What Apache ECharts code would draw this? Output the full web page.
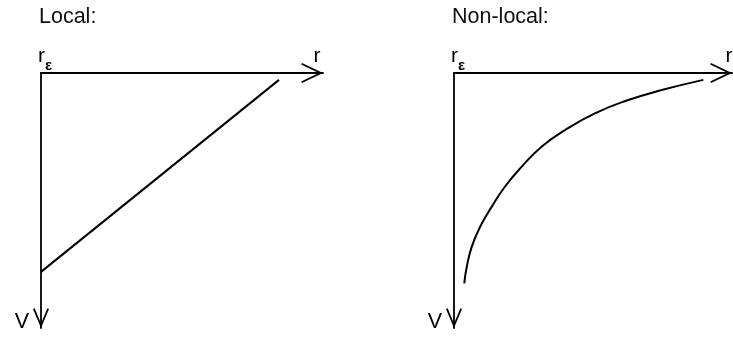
<!DOCTYPE html>
<html>
<head>
<meta charset="utf-8">
<script src="https://cdn.jsdelivr.net/npm/echarts@6/dist/echarts.min.js"></script>
<style>
html,body{margin:0;padding:0;background:#fff;}
#c{width:733px;height:337px;}
</style>
</head>
<body>
<div id="c"></div>
<script>
// ---- data (axis units 0..100, V grows downward) ----
const panelTitles = ['Local:', 'Non-local:'];
const xAxisNames = ['r', 'r'];
const yAxisNames = ['V', 'V'];
const originLabel = ['r', 'ε'];

const localX = [0, 84.4];
const localY = [78.0, 2.7];

const nonlocalX = [3.7, 4.6, 6.4, 9.4, 13.6, 18.3, 24.4, 31.5, 39.9, 50.7, 62.7, 74.7, 89.7];
const nonlocalY = [82.5, 76.0, 68.1, 60.3, 52.4, 44.6, 36.7, 28.9, 22.4, 15.8, 10.6, 6.7, 2.7];

// ---- helpers ----
const FONT = "'Liberation Sans', Arial, Helvetica, sans-serif";
const INK = '#000';
const xArrow = 'path://M10,0 L20,21 L18.4,21.8 L10,4.2 L1.6,21.8 L0,21 Z';
const yArrow = 'path://M8,0 L16,19 L14.34,19.7 L8,4.6 L1.66,19.7 L0,19 Z';

function zip(xs, ys) { return xs.map((x, i) => [x, ys[i]]); }

function makeX(gridIndex, name, nameGap) {
  return {
    type: 'value', gridIndex: gridIndex, position: 'top', min: 0, max: 100, interval: 100,
    name: name, nameLocation: 'end', nameGap: nameGap,
    nameTextStyle: { fontFamily: FONT, fontSize: 21, color: INK, align: 'center', verticalAlign: 'bottom', padding: [0, 0, 6, 0] },
    axisLine: { show: true, onZero: false, symbol: ['none', xArrow], symbolSize: [20, 21.8], symbolOffset: [0, -10.9],
                lineStyle: { color: INK, width: 1.8 } },
    axisTick: { show: false }, splitLine: { show: false },
    axisLabel: {
      show: true, showMinLabel: true, showMaxLabel: false, align: 'left', margin: 0, padding: [0, 0, 0, -3],
      formatter: function (v) { return v === 0 ? '{r|' + originLabel[0] + '}{e|' + originLabel[1] + '}' : ''; },
      rich: {
        r: { fontFamily: FONT, fontSize: 21, color: INK, padding: [0, 0, 6, 0], verticalAlign: 'bottom' },
        e: { fontFamily: FONT, fontSize: 15, fontWeight: 'bold', color: INK, verticalAlign: 'bottom' }
      }
    }
  };
}
function makeY(gridIndex, name) {
  return {
    type: 'value', gridIndex: gridIndex, inverse: true, min: 0, max: 100, interval: 100,
    name: name, nameLocation: 'end', nameGap: 5,
    nameTextStyle: { fontFamily: FONT, fontSize: 21.5, color: INK, align: 'right', verticalAlign: 'bottom', padding: [0, 12, 0, 0] },
    axisLine: { show: true, onZero: false, symbol: [yArrow, 'none'], symbolSize: [16, 19.7], symbolOffset: [9.85, 0],
                lineStyle: { color: INK, width: 1.8 } },
    axisTick: { show: false }, splitLine: { show: false }, axisLabel: { show: false }
  };
}

const chart = echarts.init(document.getElementById('c'), null, { renderer: 'canvas' });
chart.setOption({
  animation: false,
  backgroundColor: '#fff',
  title: [
    { text: panelTitles[0], left: 39, top: 6, padding: 0, textStyle: { fontFamily: FONT, fontSize: 21.5, fontWeight: 'normal', color: '#111' } },
    { text: panelTitles[1], left: 452, top: 6, padding: 0, textStyle: { fontFamily: FONT, fontSize: 21.5, fontWeight: 'normal', color: '#111' } }
  ],
  grid: [
    { left: 41, top: 73, width: 282, height: 255, containLabel: false, outerBoundsMode: 'none' },
    { left: 454, top: 73, width: 278, height: 255, containLabel: false, outerBoundsMode: 'none' }
  ],
  xAxis: [makeX(0, xAxisNames[0], -6), makeX(1, xAxisNames[1], -3)],
  yAxis: [makeY(0, yAxisNames[0]), makeY(1, yAxisNames[1])],
  series: [
    { type: 'line', xAxisIndex: 0, yAxisIndex: 0, data: zip(localX, localY), showSymbol: false,
      lineStyle: { color: INK, width: 2 } },
    { type: 'line', xAxisIndex: 1, yAxisIndex: 1, data: zip(nonlocalX, nonlocalY), showSymbol: false,
      smooth: 0.5, lineStyle: { color: INK, width: 2 } }
  ]
});
</script>
</body>
</html>
